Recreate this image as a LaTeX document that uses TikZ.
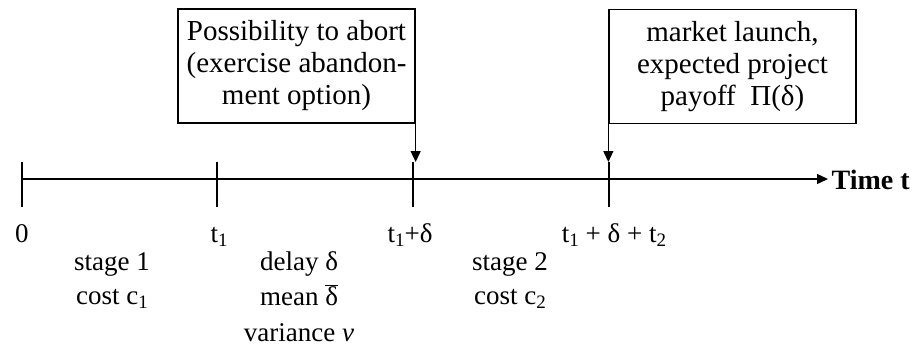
\documentclass[tikz,border=0pt]{standalone}
\usepackage{fontspec}
\setmainfont{Liberation Serif}
\usetikzlibrary{arrows.meta}
\newcommand{\lowsub}[1]{\raisebox{-0.35ex}{\fontsize{19}{19}\selectfont #1}}
\begin{document}
\begin{tikzpicture}[x=1pt,y=-1pt,line width=1.3pt,
  every node/.style={font=\fontsize{27}{32}\selectfont, inner sep=0pt},
  infobox/.style={draw, line width=1.3pt, align=center, minimum height=114pt, font=\fontsize{29}{32}\selectfont},
  ticklabel/.style={anchor=base},
  lbl/.style={anchor=base},
  tip/.style={-{Triangle[length=11pt,width=10pt]}}]
\useasboundingbox (0,0) rectangle (919,346);
% axis
\coordinate (a0) at (22,179);
\coordinate (aend) at (828,179);
\draw[tip] (a0) -- (aend);
\node[anchor=west, font=\fontsize{28}{32}\selectfont\bfseries] (time) at (831,180) {Time t};
% ticks
\foreach \n/\x in {k0/22,k1/217,k2/413,k3/609}{
  \coordinate (\n top) at (\x,162);
  \coordinate (\n bot) at (\x,207);
  \draw (\n top) -- (\n bot);
}
% boxes
\node[infobox, minimum width=237pt] (b1) at (296.5,66) {Possibility to abort\\(exercise abandon-\\ment option)};
\node[infobox, minimum width=247pt] (b2) at (732.5,66.5) {market launch,\\expected project\\payoff~ Π(δ)};
\coordinate (b1e) at (b1.south east);
\coordinate (b2w) at (b2.south west);
\coordinate (p1) at (b1e |- 0,162);
\coordinate (p2) at (b2w |- 0,162);
\draw[tip] (b1.south east) -- (p1);
\draw[tip] (b2.south west) -- (p2);
% tick labels
\node[ticklabel] (l0) at (22,242) {0};
\node[ticklabel] (l1) at (219,242) {t\lowsub{1}};
\node[ticklabel] (l2) at (410,242) {t\lowsub{1}+δ};
\node[ticklabel] (l3) at (614,242) {t\lowsub{1} + δ + t\lowsub{2}};
% stage labels
\node[lbl] (s1a) at (112,270) {stage 1};
\node[lbl] (s1b) at (112,304) {cost c\lowsub{1}};
\node[lbl] (d1) at (299,270) {delay δ};
\node[lbl] (d2) at (299,305) {mean $\overline{\mbox{δ}}$};
\node[lbl] (d3) at (299,341) {variance \textit{v}};
\node[lbl] (s2a) at (510,270) {stage 2};
\node[lbl] (s2b) at (510,304) {cost c\lowsub{2}};
\end{tikzpicture}
\end{document}
